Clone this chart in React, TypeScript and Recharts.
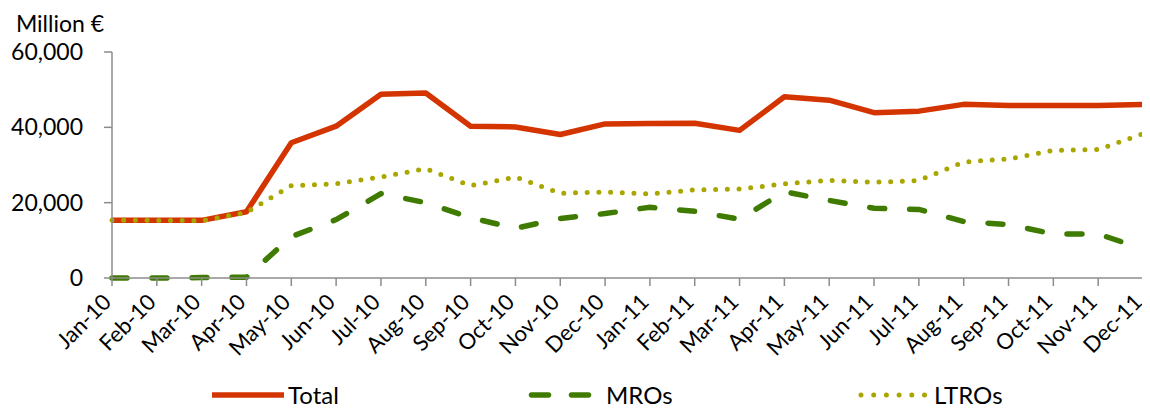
import { LineChart, Line, XAxis, YAxis, Legend } from 'recharts';

const months = [
  'Jan-10', 'Feb-10', 'Mar-10', 'Apr-10', 'May-10', 'Jun-10', 'Jul-10', 'Aug-10', 'Sep-10', 'Oct-10', 'Nov-10', 'Dec-10',
  'Jan-11', 'Feb-11', 'Mar-11', 'Apr-11', 'May-11', 'Jun-11', 'Jul-11', 'Aug-11', 'Sep-11', 'Oct-11', 'Nov-11', 'Dec-11',
];
const total = [15300, 15300, 15300, 17600, 35900, 40300, 48800, 49100, 40300, 40100, 38100, 40900, 41000, 41100, 39200, 48100, 47200, 43900, 44300, 46100, 45800, 45800, 45800, 46100];
const mros = [0, 0, 100, 200, 11000, 15500, 22400, 20000, 16000, 13200, 15800, 17100, 18800, 17700, 15600, 22900, 20600, 18500, 18200, 15000, 14200, 11700, 11700, 7700];
const ltros = [15300, 15300, 15200, 17400, 24500, 25000, 26800, 29000, 24500, 26800, 22500, 22800, 22300, 23400, 23600, 25000, 25900, 25400, 25900, 30800, 31600, 33900, 34100, 38300];
const yTicks = [0, 20000, 40000, 60000];

const data = months.map((m, i) => ({ month: m, total: total[i], mros: mros[i], ltros: ltros[i] }));

const RED = '#D43500';
const GREEN = '#3F7B00';
const OLIVE = '#A9A600';
const AXIS = '#8c8c8c';
const FONT = 'Lato, sans-serif';

function XTick({ x, y, payload }: any) {
  return (
    <g transform={`translate(${x - 5},${y + 10})`}>
      <text textAnchor="end" dy="0.35em" transform="rotate(-45)" fontSize={22} fontFamily={FONT} fill="#000">
        {payload.value}
      </text>
    </g>
  );
}

function ChartLegend() {
  const text = { position: 'absolute' as const, top: 0, lineHeight: '30px', fontSize: 24, fontFamily: FONT, color: '#000' };
  const sw = { position: 'absolute' as const, top: 10 };
  return (
    <div style={{ position: 'relative', width: 1142, height: 30 }}>
      <svg style={{ ...sw, left: 202 }} width={80} height={10}>
        <line x1={2} x2={74} y1={5} y2={5} stroke={RED} strokeWidth={5.5} />
      </svg>
      <span style={{ ...text, left: 280 }}>Total</span>
      <svg style={{ ...sw, left: 519 }} width={80} height={10}>
        <line x1={4.5} x2={61.5} y1={5} y2={5} stroke={GREEN} strokeWidth={5.5} strokeDasharray="17 23" strokeLinecap="round" />
      </svg>
      <span style={{ ...text, left: 598 }}>MROs</span>
      <svg style={{ ...sw, left: 848 }} width={80} height={10}>
        <line x1={5} x2={69} y1={5} y2={5} stroke={OLIVE} strokeWidth={5} strokeDasharray="0 12.7" strokeLinecap="round" />
      </svg>
      <span style={{ ...text, left: 926 }}>LTROs</span>
    </div>
  );
}

export default function App() {
  return (
    <LineChart width={1142} height={400} data={data} margin={{ top: 44, right: 7, left: 0, bottom: 0 }}>
      <XAxis
        dataKey="month"
        interval={0}
        height={130}
        tickSize={8}
        axisLine={{ stroke: AXIS, strokeWidth: 1.5 }}
        tickLine={{ stroke: AXIS, strokeWidth: 1.5 }}
        tick={<XTick />}
      />
      <YAxis
        width={104}
        domain={[0, 60000]}
        ticks={yTicks}
        tickSize={8}
        tickMargin={21}
        axisLine={{ stroke: AXIS, strokeWidth: 1.5 }}
        tickLine={{ stroke: AXIS, strokeWidth: 1.5 }}
        tick={{ fontSize: 23, fontFamily: FONT, fill: '#000' }}
        tickFormatter={(v: number) => v.toLocaleString('en-US')}
        label={{ value: 'Million €', position: 'top', offset: 20, fontSize: 23, fontFamily: FONT, fill: '#000' }}
      />
      <Legend
        verticalAlign="middle"
        content={() => <ChartLegend />}
        wrapperStyle={{ top: 372, left: 0, width: 1142 }}
      />
      <Line dataKey="total" name="Total" stroke={RED} strokeWidth={5.5} dot={false} isAnimationActive={false} strokeLinejoin="round" />
      <Line dataKey="mros" name="MROs" stroke={GREEN} strokeWidth={5.5} strokeDasharray="15 25" strokeLinecap="round" dot={false} isAnimationActive={false} />
      <Line dataKey="ltros" name="LTROs" stroke={OLIVE} strokeWidth={5} strokeDasharray="0 11.7" strokeLinecap="round" dot={false} isAnimationActive={false} />
    </LineChart>
  );
}
